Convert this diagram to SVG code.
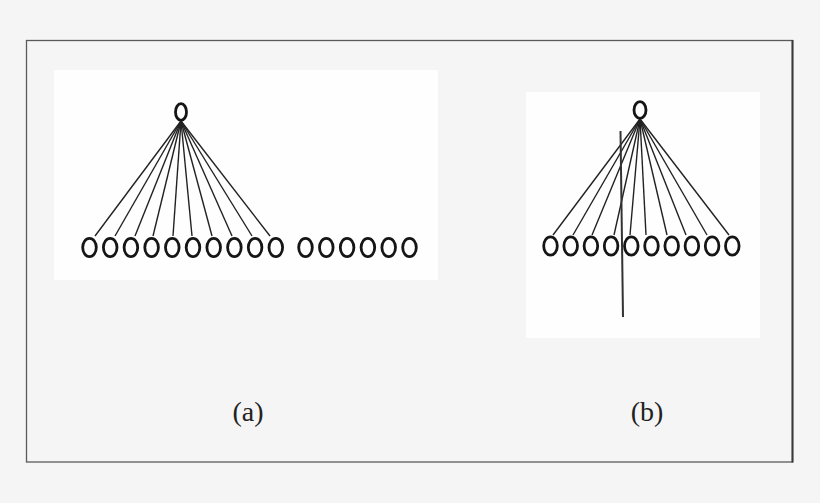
<svg xmlns="http://www.w3.org/2000/svg" width="820" height="503" viewBox="0 0 820 503">
<style>
.n{fill:none;stroke:#151515;stroke-width:2.8}
.c line{stroke:#222;stroke-width:1.4}
.lbl{font-family:"Liberation Serif","Times New Roman",serif;font-size:28px;fill:#222;text-anchor:middle}
</style>
<rect x="0" y="0" width="820" height="503" fill="#f5f5f5"/>
<rect x="26.5" y="40.5" width="766" height="421.5" fill="#f5f5f5" stroke="#5a5a5a" stroke-width="1.3"/>
<line x1="792.5" y1="40" x2="792.5" y2="462.5" stroke="#3a3a3a" stroke-width="2"/>
<rect x="54" y="70" width="384" height="210" fill="#fefefe"/>
<rect x="526" y="92" width="234" height="246" fill="#fefefe"/>

<g id="connectors-a" class="c">
<line x1="181" y1="121" x2="95" y2="236"/>
<line x1="181" y1="121" x2="115" y2="236"/>
<line x1="181" y1="121" x2="135" y2="236"/>
<line x1="181" y1="121" x2="153" y2="236"/>
<line x1="181" y1="121" x2="173" y2="236"/>
<line x1="181" y1="121" x2="192" y2="236"/>
<line x1="181" y1="121" x2="212" y2="236"/>
<line x1="181" y1="121" x2="232" y2="236"/>
<line x1="181" y1="121" x2="252" y2="236"/>
<line x1="181" y1="121" x2="270" y2="236"/>
</g>
<g id="connectors-b" class="c">
<line x1="640" y1="119" x2="553" y2="235"/>
<line x1="640" y1="119" x2="573" y2="235"/>
<line x1="640" y1="119" x2="592" y2="235"/>
<line x1="640" y1="119" x2="614" y2="235"/>
<line x1="640" y1="119" x2="630" y2="235"/>
<line x1="640" y1="119" x2="646" y2="235"/>
<line x1="640" y1="119" x2="667" y2="235"/>
<line x1="640" y1="119" x2="686" y2="235"/>
<line x1="640" y1="119" x2="707" y2="235"/>
<line x1="640" y1="119" x2="729" y2="235"/>
</g>

<g id="a-root"><ellipse class="n" cx="181" cy="112" rx="5.5" ry="8.3"/></g>
<g id="a-leaves-1">
<ellipse class="n" cx="89.5" cy="247.5" rx="6.8" ry="9.2"/>
<ellipse class="n" cx="110.2" cy="247.5" rx="6.8" ry="9.2"/>
<ellipse class="n" cx="130.9" cy="247.5" rx="6.8" ry="9.2"/>
<ellipse class="n" cx="151.6" cy="247.5" rx="6.8" ry="9.2"/>
<ellipse class="n" cx="172.3" cy="247.5" rx="6.8" ry="9.2"/>
<ellipse class="n" cx="193" cy="247.5" rx="6.8" ry="9.2"/>
<ellipse class="n" cx="213.7" cy="247.5" rx="6.8" ry="9.2"/>
<ellipse class="n" cx="234.4" cy="247.5" rx="6.8" ry="9.2"/>
<ellipse class="n" cx="255.1" cy="247.5" rx="6.8" ry="9.2"/>
<ellipse class="n" cx="275.8" cy="247.5" rx="6.8" ry="9.2"/>
</g>
<g id="a-leaves-2">
<ellipse class="n" cx="305.5" cy="247.5" rx="6.8" ry="9.2"/>
<ellipse class="n" cx="326.3" cy="247.5" rx="6.8" ry="9.2"/>
<ellipse class="n" cx="347.1" cy="247.5" rx="6.8" ry="9.2"/>
<ellipse class="n" cx="367.9" cy="247.5" rx="6.8" ry="9.2"/>
<ellipse class="n" cx="388.7" cy="247.5" rx="6.8" ry="9.2"/>
<ellipse class="n" cx="409.5" cy="247.5" rx="6.8" ry="9.2"/>
</g>

<g id="b-root"><ellipse class="n" cx="640" cy="110" rx="6" ry="8.3"/></g>
<g id="b-leaves">
<ellipse class="n" cx="550.5" cy="246" rx="6.8" ry="9.2"/>
<ellipse class="n" cx="570.7" cy="246" rx="6.8" ry="9.2"/>
<ellipse class="n" cx="590.9" cy="246" rx="6.8" ry="9.2"/>
<ellipse class="n" cx="611.1" cy="246" rx="6.8" ry="9.2"/>
<ellipse class="n" cx="631.3" cy="246" rx="6.8" ry="9.2"/>
<ellipse class="n" cx="651.5" cy="246" rx="6.8" ry="9.2"/>
<ellipse class="n" cx="671.7" cy="246" rx="6.8" ry="9.2"/>
<ellipse class="n" cx="691.9" cy="246" rx="6.8" ry="9.2"/>
<ellipse class="n" cx="712.1" cy="246" rx="6.8" ry="9.2"/>
<ellipse class="n" cx="732.3" cy="246" rx="6.8" ry="9.2"/>
</g>
<g id="b-cut"><line x1="620.5" y1="131" x2="623" y2="317" stroke="#333" stroke-width="2"/></g>

<text class="lbl" x="248" y="421">(a)</text>
<text class="lbl" x="647" y="421">(b)</text>
</svg>
